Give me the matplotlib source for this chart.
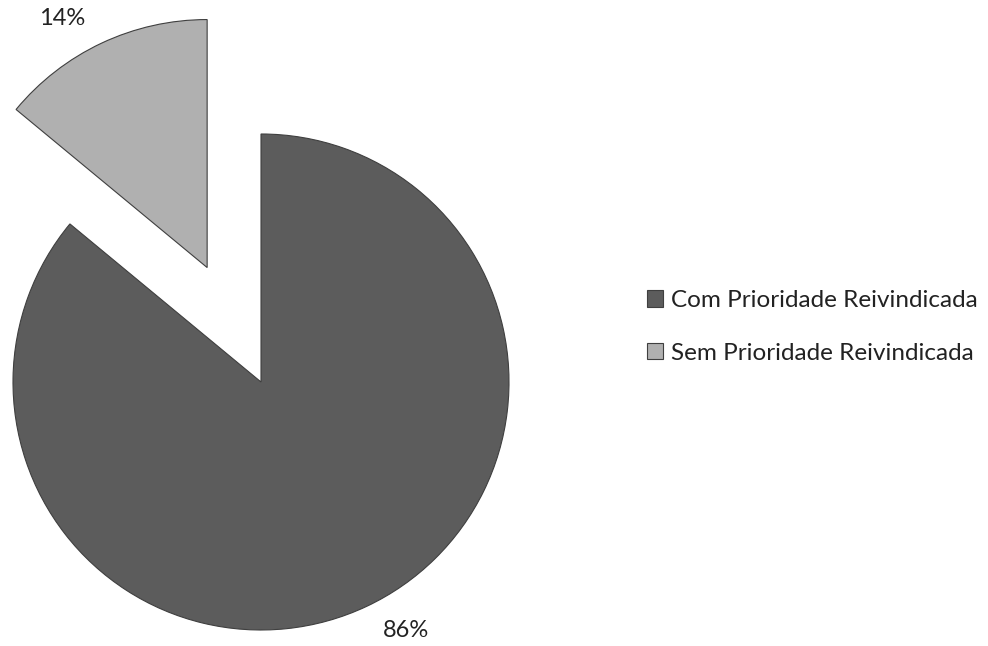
import numpy as np
import matplotlib.pyplot as plt

# Data
categories = ['Com Prioridade Reivindicada', 'Sem Prioridade Reivindicada']
values = [86, 14]
colors = ['#5c5c5c', '#b0b0b0']
explode_frac = [0, 0.51]

plt.rcParams['font.family'] = ['Lato', 'DejaVu Sans']

fig = plt.figure(figsize=(9.88, 6.46), dpi=100)
ax = fig.add_axes([0, 0, 1, 1])

radius = 248
wedges, texts, autotexts = ax.pie(
    values, colors=colors, explode=[e * radius for e in explode_frac],
    startangle=90, counterclock=False,
    center=(261, 264), radius=radius, frame=True,
    autopct='%1.0f%%', pctdistance=1.16,
    wedgeprops=dict(edgecolor='#3f3f3f', linewidth=0.8),
    textprops=dict(fontsize=17, color='#222222'))

# labels sit a little counter-clockwise of the slice middle, like Excel does
for w, t in zip(wedges, autotexts):
    th = np.deg2rad((w.theta1 + w.theta2) / 2 + 5)
    cx, cy = w.center
    t.set_position((cx + 1.16 * w.r * np.cos(th), cy + 1.16 * w.r * np.sin(th)))

ax.set_xlim(0, 988)
ax.set_ylim(0, 646)
ax.set_aspect('equal')
ax.axis('off')

leg = ax.legend(wedges, categories, loc='center left', bbox_to_anchor=(0.655, 0.494),
                frameon=False, fontsize=17.5, handlelength=0.65, handleheight=0.65,
                handletextpad=0.33, labelspacing=1.3, borderpad=0, borderaxespad=0)
for t in leg.get_texts():
    t.set_color('#222222')

fig.savefig('out.png', dpi=100)
